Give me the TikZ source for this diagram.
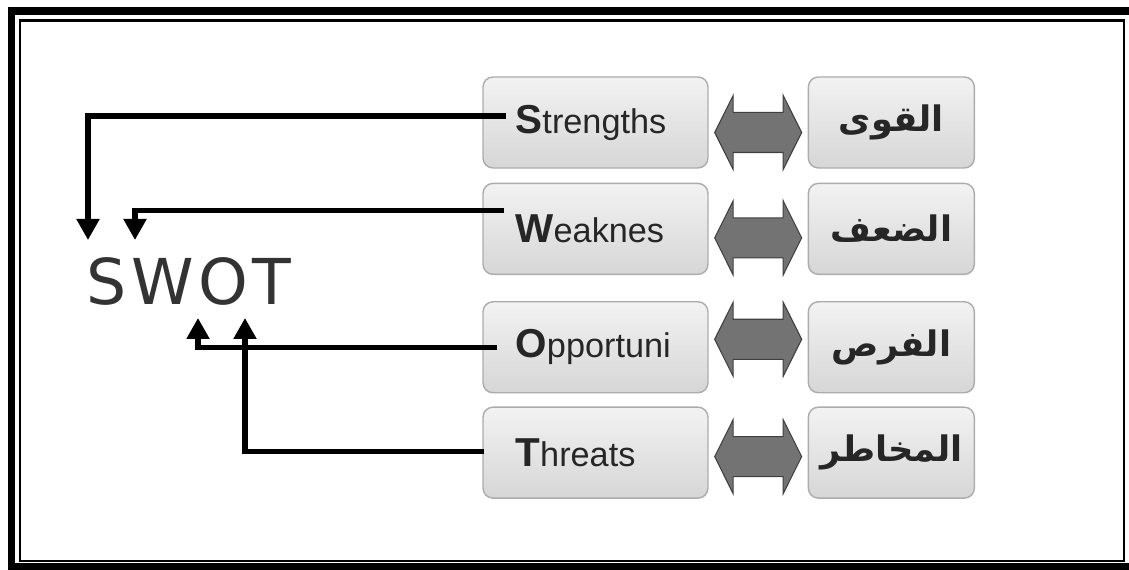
\documentclass[tikz,border=0pt]{standalone}
\usepackage{fontspec}
\setmainfont{Liberation Sans}
\newfontfamily\swotfont{DejaVu Sans}
\newfontfamily\arabicfont[Script=Arabic]{DejaVu Sans}
\TeXXeTstate=1
\usetikzlibrary{positioning,arrows.meta,shapes.arrows}

% big bold initial, rest of the word in normal weight
\newcommand{\firstcap}[2]{{\fontsize{23}{26}\selectfont\bfseries #1}#2}
\newcommand{\artext}[1]{{\arabicfont\bfseries\beginR #1\endR}}

\begin{document}
\begin{tikzpicture}[x=0.02cm, y=-0.02cm,
  box/.style={draw=gray!65, line width=0.8pt, rounded corners=2mm, top color=gray!10, bottom color=gray!32, minimum height=18.2mm, inner sep=0pt},
  en/.style={box, minimum width=45mm, text width=32mm, align=left, font=\fontsize{19.5}{22}\selectfont, text=black!85},
  arb/.style={box, minimum width=33.2mm, font=\fontsize{20}{24}\selectfont, text=black!85},
  dbl/.style={double arrow, draw=black!75, line width=0.6pt, fill=black!55, inner xsep=0pt, inner ysep=3.9mm, double arrow head extend=3.4mm, double arrow tip angle=127, minimum height=17.4mm},
  link/.style={line width=2.9pt, -{Triangle[length=4.2mm,width=4.4mm]}},
]
\useasboundingbox (0,0) rectangle (1129,570);

% frame
\draw[line width=4.5pt] (11.5,11) rectangle (1136,567);
\draw[line width=1.2pt] (20,20.5) rectangle (1124,561);

% english column
\node[en] (s) at (595.5,122.5) {\firstcap{S}{trengths}};
\node[en, below=2.8mm of s] (w) {\firstcap{W}{eaknes}};
\node[en, below=5.2mm of w] (o) {\firstcap{O}{pportuni}};
\node[en, below=2.6mm of o] (t) {\firstcap{T}{hreats}};

% arabic column
\node[arb, right=19.8mm of s] (sa) {\artext{القوى}};
\node[arb, right=19.8mm of w] (wa) {\artext{الضعف}};
\node[arb, right=19.8mm of o] (oa) {\artext{الفرص}};
\node[arb, right=19.8mm of t] (ta) {\artext{المخاطر}};

\foreach \a/\dy in {s/-2mm, w/-1.8mm, o/1.6mm, t/-0.8mm}
  \path (\a) -- node[dbl, yshift=\dy] (\a d) {} (\a a);

% SWOT and the four feeds
\node[inner sep=0pt, text=black!80, font=\swotfont\fontsize{36}{40}\selectfont] (swot) at (189,281.5) {S\kern2.5pt W\kern2.5pt O\kern2.5pt T};
\coordinate (tipS) at (88,240);
\coordinate (tipW) at (135,240);
\coordinate (tipO) at (198,318);
\coordinate (tipT) at (245,318);

\draw[link] ([xshift=4.8mm,yshift=1.3mm]s.west) -| (tipS);
\draw[link] ([xshift=4.4mm,yshift=3.7mm]w.west) -| (tipW);
\draw[link] ([xshift=3mm]o.west) -| (tipO);
\draw[link] ([xshift=0.4mm,yshift=0.3mm]t.west) -| (tipT);
\end{tikzpicture}
\end{document}
